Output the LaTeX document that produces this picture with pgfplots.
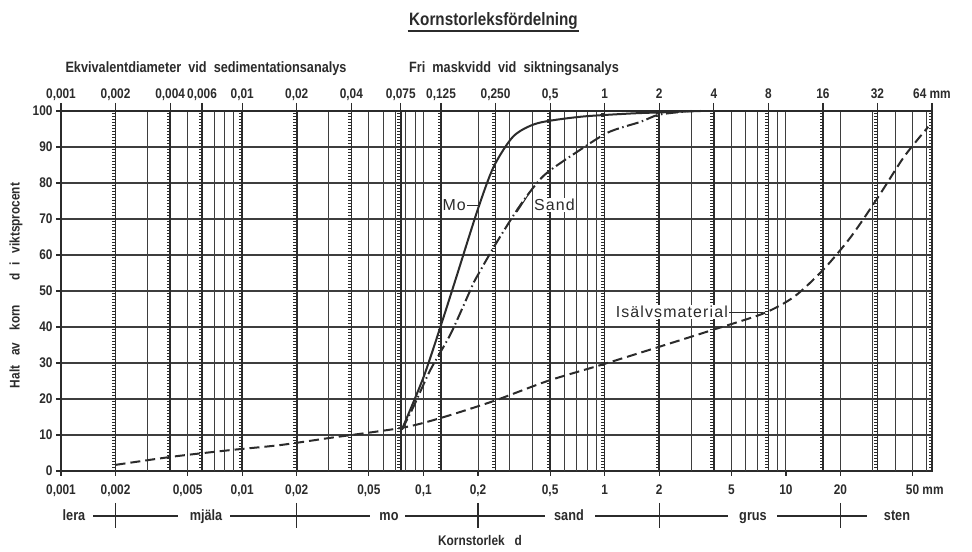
\documentclass[border=0pt]{standalone}
\usepackage{pgfplots}
\pgfplotsset{compat=1.18}
\usepackage{fontspec}
\setmainfont{Liberation Sans}[FakeStretch=0.85]
\newfontfamily\labfont{Liberation Sans}[LetterSpace=7]
\definecolor{ink}{HTML}{2B2B2B}
\definecolor{gridc}{HTML}{3E3E3E}
\newcommand{\tf}{\bfseries\fontsize{14}{14}\selectfont}
\newcommand{\hf}{\bfseries\fontsize{15}{15}\selectfont}
\begin{document}
\begin{tikzpicture}[x=1bp,y=1bp]
\useasboundingbox (0,0) rectangle (972,552);
% ---------------- main axis ----------------
\begin{axis}[
  at={(61bp,81bp)}, anchor=south west,
  width=871bp, height=360bp, scale only axis,
  xmode=log, xmin=0.001, xmax=64, ymin=0, ymax=100,
  axis line style={ink, line width=2.4bp, -},
  xtick={0.001,0.002,0.005,0.01,0.02,0.05,0.1,0.2,0.5,1,2,5,10,20,50},
  xticklabels={{0,001},{0,002},{0,005},{0,01},{0,02},{0,05},{0,1},{0,2},{0,5},1,2,5,10,20,{50\rlap{\ mm}}},
  minor xtick={},
  ytick={0,10,20,30,40,50,60,70,80,90,100},
  yticklabels={0,10,20,30,40,50,60,70,80,90,100},
  xtick pos=left, ytick pos=left,
  tick align=outside, major tick length=5bp,
  tick style={ink, line width=1.2bp},
  ymajorgrids=true,
  major grid style={gridc, line width=1.2bp},
  ticklabel style={font=\tf, text=ink},
  xticklabel style={text height=10bp, text depth=2.5bp, yshift=-5bp},
  clip=false,
]
% thin log grid
\pgfplotsinvokeforeach{0.003,0.005,0.007,0.008,0.009,0.03,0.05,0.06,0.07,0.08,0.09,0.1,0.2,0.3,0.4,0.6,0.7,0.8,0.9,3,5,6,7,9,10,20,30,40,50,60}{
  \draw[gridc, line width=1bp] (axis cs:#1,0) -- (axis cs:#1,100);
}
% heavy hashed lines at sieve sizes
\pgfplotsinvokeforeach{0.002,0.004,0.006,0.01,0.02,0.04,0.075,0.125,0.25,0.5,1,2,4,8,16,32,64}{
  \draw[ink, line width=1.5bp] (axis cs:#1,0) -- (axis cs:#1,100);
  \draw[ink, line width=3.6bp, dash pattern=on 1bp off 2bp] ([xshift=-1.6bp]axis cs:#1,0) -- ([xshift=-1.6bp]axis cs:#1,100);
}
% Mo
\addplot[ink, line width=2bp, smooth, tension=0.45] coordinates {
  (0.076,11.5) (0.1,26) (0.124,40) (0.150,53) (0.199,72.5) (0.244,84.5)
  (0.314,93) (0.426,96.6) (0.736,98.4) (1.39,99.3) (2.0,99.6) (3.4,100)
};
% Sand
\addplot[ink, line width=2bp, smooth, tension=0.45, dash pattern=on 12bp off 3.5bp on 1.5bp off 3.5bp] coordinates {
  (0.076,11.5) (0.088,17.8) (0.109,28) (0.141,38) (0.177,49) (0.19,52.5) (0.25,63)
  (0.344,74) (0.46,82) (0.674,88) (1.04,94) (1.58,97) (2.0,99) (3.0,100)
};
% Isaelvsmaterial
\addplot[ink, line width=2bp, smooth, tension=0.45, dash pattern=on 10bp off 5bp] coordinates {
  (0.002,1.7) (0.00416,4.0) (0.00859,5.8) (0.0162,7.2) (0.0306,9.2) (0.0762,12)
  (0.124,14.7) (0.243,19.4) (0.484,25.0) (0.975,29.6) (2.0,34.5) (3.95,39.2)
  (7.55,43.8) (11.1,48.4) (16.0,55.8) (22.8,65) (32.2,76) (44.9,87.3) (61.0,95.6)
};
\end{axis}
% ---------------- top axis ----------------
\begin{axis}[
  at={(61bp,81bp)}, anchor=south west,
  width=871bp, height=360bp, scale only axis,
  xmode=log, xmin=0.001, xmax=64, ymin=0, ymax=100,
  axis x line*=top, axis y line=none,
  axis line style={ink, line width=2.4bp, -},
  xtick={0.001,0.002,0.004,0.006,0.01,0.02,0.04,0.075,0.125,0.25,0.5,1,2,4,8,16,32,64},
  xticklabels={{0,001},{0,002},{0,004},{0,006},{0,01},{0,02},{0,04},{0,075},{0,125},{0,250},{0,5},1,2,4,8,16,32,{64 mm}},
  minor xtick={},
  tick align=outside, major tick length=8bp,
  tick style={ink, line width=1.2bp},
  ticklabel style={font=\tf, text=ink},
  xticklabel style={text height=10bp, text depth=2.5bp, yshift=-2bp},
]
\end{axis}
% ---------------- texts ----------------
\node[font=\bfseries\fontsize{18}{18}\selectfont, anchor=base, text=ink] (T) at (493.5,526) {Kornstorleksfördelning};
\draw[ink, line width=1.5bp] ([shift={(2bp,-5bp)}]T.base west) -- ([shift={(-2bp,-5bp)}]T.base east);
\node[anchor=base, font=\hf, text=ink] at (206,479) {Ekvivalentdiameter\ \ vid\ \ sedimentationsanalys};
\node[anchor=base, font=\hf, text=ink] at (514,479) {Fri\ \ maskvidd\ \ vid\ \ siktningsanalys};
% y label
\node[rotate=90, font=\tf, text=ink] at (16,266.5) {Halt\hspace{10bp}av\hspace{12bp}korn\hspace{24bp}d\hspace{8bp}i\hspace{9bp}viktsprocent};
% classification row
\begin{scope}[ink, line width=1.1bp]
  \draw (93,36) -- (178,36);
  \draw (230,36) -- (370,36);
  \draw (405,36) -- (545,36);
  \draw (595,36) -- (728,36);
  \draw (777,36) -- (867,36);
  \foreach \xx in {115.6,296.8,478.0,659.2,840.5} {\draw[line width=1.3bp] (\xx,49) -- (\xx,24);}
\end{scope}
\foreach \xx/\tt in {74/lera,206/mjäla,389/mo,569/sand,753/grus,897/sten} {
  \node[anchor=base, font=\hf, text=ink] at (\xx,31) {\tt};
}
\node[anchor=base, font=\tf, text=ink] at (480,6) {Kornstorlek\ \ \ d};
% curve labels
\node[anchor=base east, fill=white, inner sep=1bp, font=\labfont\fontsize{16}{16}\selectfont, text=ink] at (467,341) {Mo};
\draw[ink, line width=1bp] (467,346) -- (478,346);
\draw[ink, line width=1bp] (517,340) -- (532,363);
\node[anchor=base west, fill=white, inner sep=1bp, font=\labfont\fontsize{16}{16}\selectfont, text=ink] at (533,341) {Sand};
\node[anchor=base east, fill=white, inner sep=1bp, font=\labfont\fontsize{16}{16}\selectfont, text=ink] at (729,234) {Isälvsmaterial};
\draw[ink, line width=1bp] (729,239) -- (763,239);
\end{tikzpicture}
\end{document}
